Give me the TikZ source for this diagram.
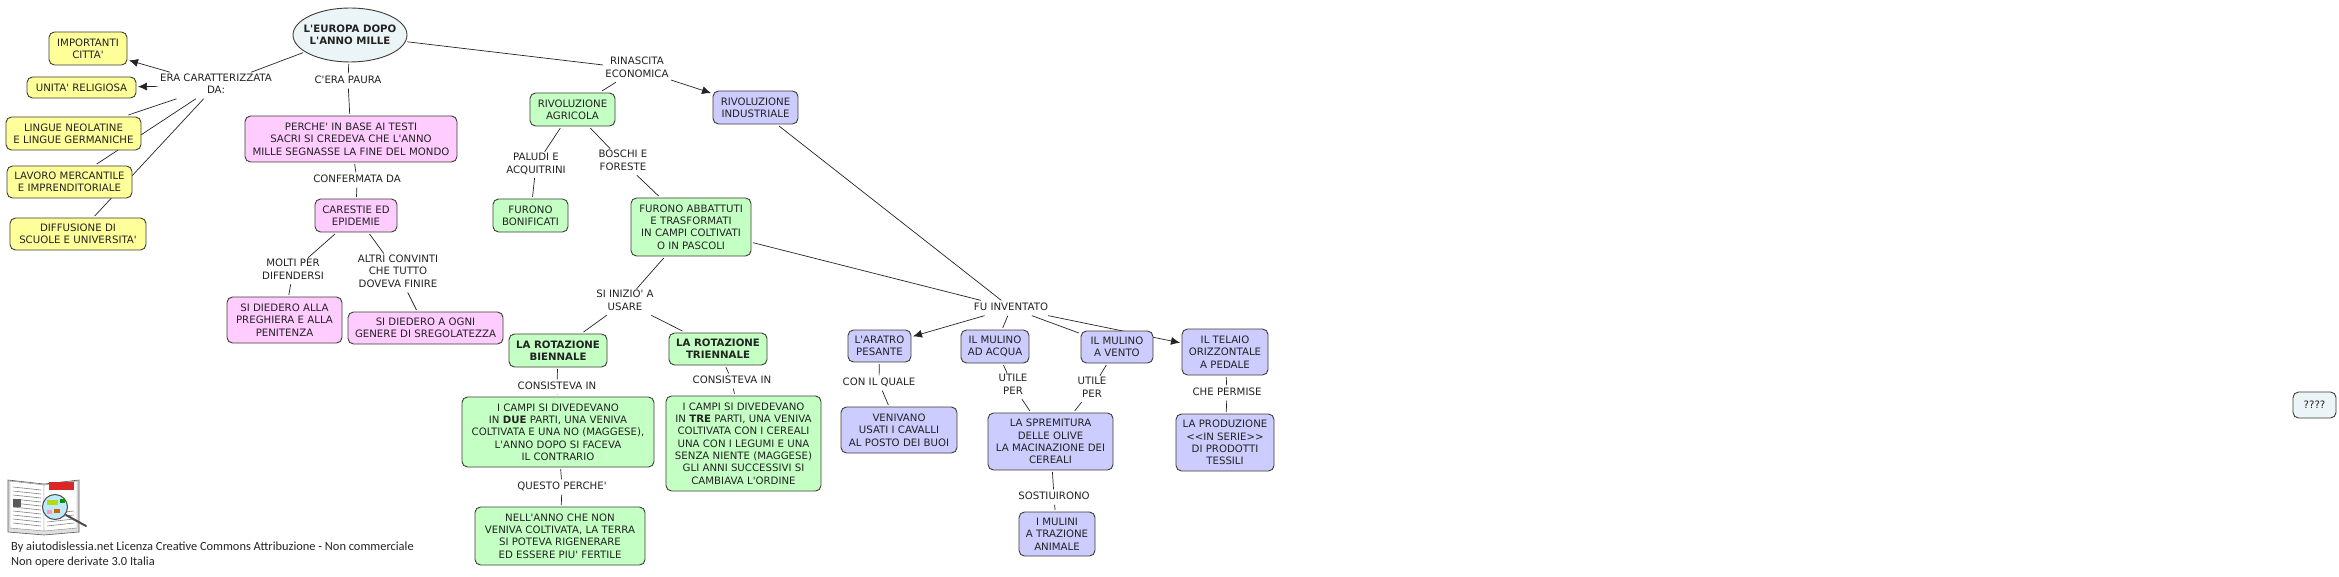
\documentclass[tikz,border=0pt]{standalone}
\usepackage{fontspec}
\newfontfamily\mapfont{DejaVu Sans}
\newfontfamily\creditfont{Carlito}
\usetikzlibrary{positioning, arrows.meta, shapes.geometric, backgrounds}
\definecolor{mapyellow}{RGB}{255,255,153}
\definecolor{mappink}{RGB}{255,204,255}
\definecolor{mapgreen}{RGB}{196,255,196}
\definecolor{mapblue}{RGB}{204,204,255}
\definecolor{mapsky}{RGB}{235,244,246}
\definecolor{mapedge}{RGB}{60,60,50}
\definecolor{mapink}{RGB}{35,35,35}
\tikzset{
    mapbox/.style={draw=mapedge, line width=0.9pt, rounded corners=5.5pt, align=center, inner sep=0pt, outer sep=2pt, text=mapink, font=\mapfont\fontsize{10.2}{12.3}\selectfont},
    yellowbox/.style={mapbox, fill=mapyellow},
    pinkbox/.style={mapbox, fill=mappink},
    greenbox/.style={mapbox, fill=mapgreen},
    bluebox/.style={mapbox, fill=mapblue},
    skybox/.style={mapbox, fill=mapsky},
    linklabel/.style={fill=white, align=center, inner xsep=1.5pt, inner ysep=0.5pt, outer sep=1pt, text=mapink, font=\mapfont\fontsize{10.2}{12.3}\selectfont, execute at begin node=\strut, execute at end node=\strut},
    link/.style={draw=mapink, line width=0.7pt},
    arrowlink/.style={link, -{Latex[length=9pt, width=8pt]}},
}
\begin{document}
\begin{tikzpicture}[x=1pt, y=-1pt]
    \useasboundingbox (0,0) rectangle (2339,577);

    % Nodo principale
    \node[skybox, ellipse, inner xsep=-7pt, minimum width=114pt, minimum height=54pt] (europa) at (350,35) {\bfseries L'EUROPA DOPO\\\bfseries L'ANNO MILLE};

    % === Colonna gialla ===
    \node[linklabel] (era) at (216,85.5) {ERA CARATTERIZZATA\\DA:};
    \node[yellowbox, minimum width=78pt, minimum height=33pt] (citta) at (88,48.5) {IMPORTANTI\\CITTA'};
    \node[yellowbox, minimum width=109pt, minimum height=21pt] (religiosa) at (81.5,87.5) {UNITA' RELIGIOSA};
    \node[yellowbox, minimum width=135pt, minimum height=33pt] (lingue) at (73.5,133.5) {LINGUE NEOLATINE\\E LINGUE GERMANICHE};
    \node[yellowbox, minimum width=125pt, minimum height=32pt] (lavoro) at (69.5,182) {LAVORO MERCANTILE\\E IMPRENDITORIALE};
    \node[yellowbox, minimum width=136pt, minimum height=32pt] (scuole) at (78,234) {DIFFUSIONE DI\\SCUOLE E UNIVERSITA'};

    % === Colonna rosa ===
    \node[linklabel] (paura) at (348,81) {C'ERA PAURA};
    \node[pinkbox, minimum width=212pt, minimum height=46pt] (testi) at (351,139) {PERCHE' IN BASE AI TESTI\\SACRI SI CREDEVA CHE L'ANNO\\MILLE SEGNASSE LA FINE DEL MONDO};
    \node[linklabel] (confermata) at (357,180) {CONFERMATA DA};
    \node[pinkbox, minimum width=82pt, minimum height=33pt] (carestie) at (356,215.5) {CARESTIE ED\\EPIDEMIE};
    \node[linklabel] (molti) at (293,271) {MOLTI PER\\DIFENDERSI};
    \node[linklabel] (altri) at (398,273) {ALTRI CONVINTI\\CHE TUTTO\\DOVEVA FINIRE};
    \node[pinkbox, minimum width=115pt, minimum height=46pt] (preghiera) at (284.5,320) {SI DIEDERO ALLA\\PREGHIERA E ALLA\\PENITENZA};
    \node[pinkbox, minimum width=155pt, minimum height=32pt] (sregolatezza) at (425.5,328) {SI DIEDERO A OGNI\\GENERE DI SREGOLATEZZA};

    % === Colonna verde ===
    \node[linklabel] (rinascita) at (637,69) {RINASCITA\\ECONOMICA};
    \node[greenbox, minimum width=85pt, minimum height=33pt] (agricola) at (572.5,109.5) {RIVOLUZIONE\\AGRICOLA};
    \node[linklabel] (paludi) at (536,165) {PALUDI E\\ACQUITRINI};
    \node[linklabel] (boschi) at (623,162) {BOSCHI E\\FORESTE};
    \node[greenbox, minimum width=75pt, minimum height=33pt] (bonificati) at (530.5,215.5) {FURONO\\BONIFICATI};
    \node[greenbox, minimum width=120pt, minimum height=58pt] (abbattuti) at (691,227) {FURONO ABBATTUTI\\E TRASFORMATI\\IN CAMPI COLTIVATI\\O IN PASCOLI};
    \node[linklabel] (inizio) at (625,302) {SI INIZIO' A\\USARE};
    \node[greenbox, minimum width=98pt, minimum height=33pt] (biennale) at (558,350.5) {\bfseries LA ROTAZIONE\\\bfseries BIENNALE};
    \node[greenbox, minimum width=98pt, minimum height=32pt] (triennale) at (718,349) {\bfseries LA ROTAZIONE\\\bfseries TRIENNALE};
    \node[linklabel] (consisteva) at (557,387) {CONSISTEVA IN};
    \node[linklabel] (consistevatre) at (732,381) {CONSISTEVA IN};
    \node[greenbox, minimum width=192pt, minimum height=70pt] (campidue) at (558,432) {I CAMPI SI DIVEDEVANO\\IN \textbf{DUE} PARTI, UNA VENIVA\\COLTIVATA E UNA NO (MAGGESE),\\L'ANNO DOPO SI FACEVA\\IL CONTRARIO};
    \node[greenbox, minimum width=155pt, minimum height=95pt] (campitre) at (743.5,443.5) {I CAMPI SI DIVEDEVANO\\IN \textbf{TRE} PARTI, UNA VENIVA\\COLTIVATA CON I CEREALI\\UNA CON I LEGUMI E UNA\\SENZA NIENTE (MAGGESE)\\GLI ANNI SUCCESSIVI SI\\CAMBIAVA L'ORDINE};
    \node[linklabel] (questo) at (562,487) {QUESTO PERCHE'};
    \node[greenbox, minimum width=170pt, minimum height=58pt] (fertile) at (560,536) {NELL'ANNO CHE NON\\VENIVA COLTIVATA, LA TERRA\\SI POTEVA RIGENERARE\\ED ESSERE PIU' FERTILE};

    % === Colonna azzurra ===
    \node[bluebox, minimum width=85pt, minimum height=33pt] (industriale) at (755.5,107.5) {RIVOLUZIONE\\INDUSTRIALE};
    \node[linklabel] (inventato) at (1011,308) {FU INVENTATO};
    \node[bluebox, minimum width=63pt, minimum height=32pt] (aratro) at (879.5,346) {L'ARATRO\\PESANTE};
    \node[bluebox, minimum width=68pt, minimum height=33pt] (acqua) at (995,346.5) {IL MULINO\\AD ACQUA};
    \node[bluebox, minimum width=72pt, minimum height=32pt] (vento) at (1117,347) {IL MULINO\\A VENTO};
    \node[bluebox, minimum width=86pt, minimum height=46pt] (telaio) at (1225,352) {IL TELAIO\\ORIZZONTALE\\A PEDALE};
    \node[linklabel] (quale) at (879,383) {CON IL QUALE};
    \node[linklabel] (utile) at (1013,386) {UTILE\\PER};
    \node[linklabel] (utileper) at (1092,389) {UTILE\\PER};
    \node[linklabel] (permise) at (1227,393) {CHE PERMISE};
    \node[bluebox, minimum width=116pt, minimum height=46pt] (cavalli) at (899,430) {VENIVANO\\USATI I CAVALLI\\AL POSTO DEI BUOI};
    \node[bluebox, minimum width=125pt, minimum height=57pt] (olive) at (1050.5,441.5) {LA SPREMITURA\\DELLE OLIVE\\LA MACINAZIONE DEI\\CEREALI};
    \node[bluebox, minimum width=98pt, minimum height=57pt] (tessili) at (1225,442.5) {LA PRODUZIONE\\<<IN SERIE>>\\DI PRODOTTI\\TESSILI};
    \node[linklabel] (sostituzione) at (1054,497) {SOSTIUIRONO};
    \node[bluebox, minimum width=76pt, minimum height=44pt] (trazione) at (1057,534) {I MULINI\\A TRAZIONE\\ANIMALE};
    \node[skybox, minimum width=43pt, minimum height=26pt] (domande) at (2314.5,405) {????};

    % Collegamenti, sotto i nodi
    \begin{scope}[on background layer]
        \draw[link] (europa) -- (era);
        \draw[arrowlink] (era) -- (citta);
        \draw[arrowlink] (era) -- (religiosa);
        \draw[link] (era) -- (lingue);
        \draw[link] (era) -- (lavoro);
        \draw[link] (era) -- (scuole);

        \draw[link] (europa) -- (paura);
        \draw[link] (paura) -- (testi);
        \draw[link] (testi) -- (confermata);
        \draw[link] (confermata) -- (carestie);
        \draw[link] (carestie) -- (molti);
        \draw[link] (carestie) -- (altri);
        \draw[link] (molti) -- (preghiera);
        \draw[link] (altri) -- (sregolatezza);

        \draw[link] (europa) -- (rinascita);
        \draw[link] (rinascita) -- (agricola);
        \draw[arrowlink] (rinascita) -- (industriale);
        \draw[link] (agricola) -- (paludi);
        \draw[link] (agricola) -- (boschi);
        \draw[link] (paludi) -- (bonificati);
        \draw[link] (boschi) -- (abbattuti);
        \draw[link] (abbattuti) -- (inizio);
        \draw[link] (inizio) -- (biennale);
        \draw[link] (inizio) -- (triennale);
        \draw[link] (biennale) -- (consisteva);
        \draw[link] (consisteva) -- (campidue);
        \draw[link] (triennale) -- (consistevatre);
        \draw[link] (consistevatre) -- (campitre);
        \draw[link] (campidue) -- (questo);
        \draw[link] (questo) -- (fertile);

        \draw[link] (abbattuti) -- (inventato);
        \draw[link] (industriale) -- (inventato);
        \draw[arrowlink] (inventato) -- (aratro);
        \draw[link] (inventato) -- (acqua);
        \draw[link] (inventato) -- (vento);
        \draw[arrowlink] (inventato) -- (telaio);
        \draw[link] (aratro) -- (quale);
        \draw[link] (quale) -- (cavalli);
        \draw[link] (acqua) -- (utile);
        \draw[link] (utile) -- (olive);
        \draw[link] (vento) -- (utileper);
        \draw[link] (utileper) -- (olive);
        \draw[link] (olive) -- (sostituzione);
        \draw[link] (sostituzione) -- (trazione);
        \draw[link] (telaio) -- (permise);
        \draw[link] (permise) -- (tessili);
    \end{scope}

    % Logo: libro aperto con lente
    \fill[gray!25, draw=gray!70!black, line width=0.6pt] (8,480) -- (44,484) -- (79,480) -- (79,532) -- (44,535) -- (8,532) -- cycle;
    \fill[white, draw=gray, line width=0.4pt] (10,481) -- (44,485) -- (44,531) -- (10,528) -- cycle;
    \fill[white, draw=gray, line width=0.4pt] (44,485) -- (77,481) -- (77,528) -- (44,531) -- cycle;
    \foreach \yy in {490,494,...,526} {
        \draw[gray, line width=0.6pt] (13,\yy-3) -- (41,\yy);
    }
    \foreach \yy in {514,518,522,526} {
        \draw[gray, line width=0.6pt] (47,\yy) -- (74,\yy-3);
    }
    \fill[gray!70!black] (13,499) rectangle (21,507);
    \fill[red!70!gray] (49,482) rectangle (74,490);
    \draw[gray!60!black, line width=2pt, line cap=round] (66,515) -- (86,526);
    \fill[cyan!25, draw=gray!60!black, line width=1pt] (55,507) circle (12.5);
    \fill[yellow!70!green] (47,500) rectangle (58,505);
    \fill[green!60!black] (60,499) rectangle (65,503);
    \fill[magenta!40] (47,510) rectangle (52,514);
    \fill[orange!80!black] (54,509) rectangle (60,513);

    % Licenza
    \node[anchor=west, inner sep=0pt, text=mapink, font=\creditfont\fontsize{12.4}{15}\selectfont] (licenza) at (11,547) {By aiutodislessia.net Licenza Creative Commons Attribuzione - Non commerciale};
    \node[anchor=west, inner sep=0pt, text=mapink, font=\creditfont\fontsize{12.4}{15}\selectfont] (italia) at (11,562) {Non opere derivate 3.0 Italia};
\end{tikzpicture}
\end{document}
